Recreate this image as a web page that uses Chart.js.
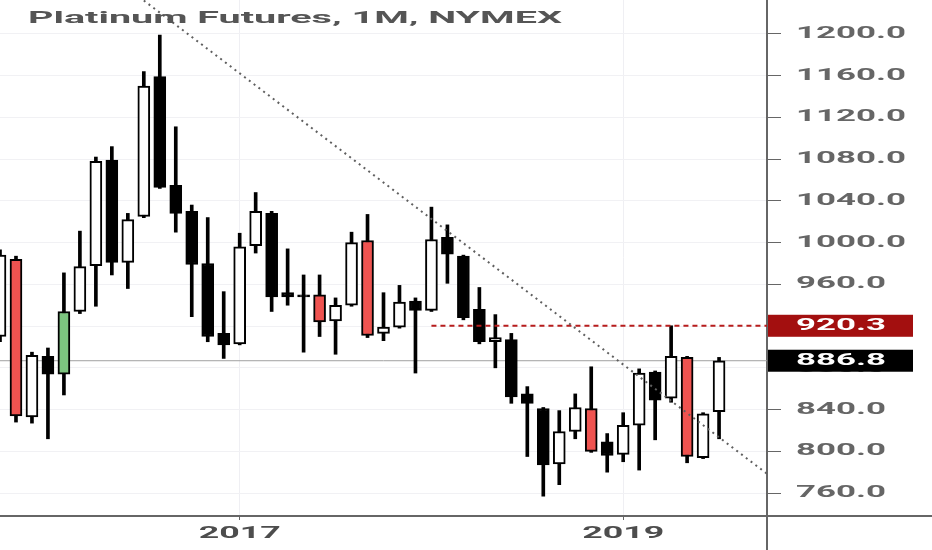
<!DOCTYPE html>
<html>
<head>
<meta charset="utf-8">
<title>Platinum Futures, 1M, NYMEX</title>
<script src="https://cdn.jsdelivr.net/npm/chart.js@4.4.0/dist/chart.umd.min.js"></script>
<style>
  html, body { margin: 0; padding: 0; background: #ffffff; }
  #wrap { width: 932px; height: 550px; position: relative; }
</style>
</head>
<body>
<div id="wrap"><canvas id="ChartPlatinum_Canvasobj"></canvas></div>
<script>
// monthly bars, last three months are empty space on the right
var months = [
  '2015-10','2015-11','2015-12',
  '2016-01','2016-02','2016-03','2016-04','2016-05','2016-06','2016-07','2016-08','2016-09','2016-10','2016-11','2016-12',
  '2017-01','2017-02','2017-03','2017-04','2017-05','2017-06','2017-07','2017-08','2017-09','2017-10','2017-11','2017-12',
  '2018-01','2018-02','2018-03','2018-04','2018-05','2018-06','2018-07','2018-08','2018-09','2018-10','2018-11','2018-12',
  '2019-01','2019-02','2019-03','2019-04','2019-05','2019-06','2019-07','2019-08','2019-09','2019-10'
];
var opens  = [910,984,833,891,874,934,978,1079,981,1025,1159,1055,1030,980,913,903,997,1028,952,950,950,925,940,1002,913,919,944,935,1005,987,936,905,907,855,841,788,819,841,809,797,825,876,851,890,794,838];
var highs  = [993,987,895,899,971,1011,1082,1092,1028,1164,1199,1111,1036,1024,953,1009,1048,1030,994,969,969,947,1010,1027,952,959,947,1034,1017,988,957,931,913,862,842,839,855,881,817,837,879,877,920.3,891,837,890];
var lows   = [905,828,827,812,854,932,939,969,956,1024,1052,1010,929,905,889,902,990,934,940,895,910,893,939,909,906,918,875,934,961,926,903,880,846,795,757,768,812,799,780,790,782,811,847,789,793,812];
var closes = [988,834,892,874,934,977,1078,981,1022,1150,1053,1028,979,910,902,996,1030,948,948,948,924,940,1000,911,919,943,935,1003,989,928,905,909,852,846,787,819,842,800,796,825,875,849,891,795,836,886.8];

var downHighlight = ['2015-11','2017-06','2017-09','2018-11','2019-05'];
var upHighlight = ['2016-02'];
var yearTicks = ['2017','2019'];

var trendMonths = ['2016-07','2019-10'];
var trendValues = [1232, 778.5];
var resistanceMonths = ['2018-01','2019-10'];
var resistanceLevel = 920.3;
var lastPrice = 886.8;
var tagValues = [920.3, 886.8];

var bodies = opens.map((o, i) => [Math.min(o, closes[i]), Math.max(o, closes[i])]);
var wicks = lows.map((l, i) => [l, highs[i]]);

const bodyColor = (c) => {
  const m = months[c.dataIndex];
  if (downHighlight.includes(m)) return '#ef5350';
  if (upHighlight.includes(m)) return '#7cc47f';
  return closes[c.dataIndex] >= opens[c.dataIndex] ? '#ffffff' : '#000000';
};

// the screenshot is a stretched video frame, so text is drawn wide
const stretchedText = {
  id: 'stretchedText',
  afterDraw(chart) {
    const ctx = chart.ctx;
    const xs = chart.scales.x, ys = chart.scales.y;
    const area = chart.chartArea;

    function put(text, px, py, font, color, align, width, refText) {
      ctx.save();
      ctx.font = font;
      const k = width / ctx.measureText(refText).width;
      ctx.translate(px, py);
      ctx.scale(k, 1);
      ctx.fillStyle = color;
      ctx.textAlign = align;
      ctx.textBaseline = 'middle';
      ctx.fillText(text, 0, 0);
      ctx.restore();
    }

    ctx.save();
    ctx.strokeStyle = '#666666';
    ctx.lineWidth = 2;
    ctx.beginPath();
    ctx.moveTo(area.right, area.bottom); ctx.lineTo(chart.width, area.bottom);
    ctx.moveTo(area.right, area.bottom); ctx.lineTo(area.right, chart.height);
    ctx.stroke();
    ctx.restore();

    const labelX = area.right + 29;
    ys.ticks.forEach(t => {
      put(t.value.toFixed(1), labelX, ys.getPixelForValue(t.value), 'bold 16px Roboto', '#666666', 'left', 110, '1200.0');
    });

    tagValues.forEach((v, i) => {
      const py = ys.getPixelForValue(v);
      ctx.fillStyle = i === 0 ? '#a30f0f' : '#000000';
      ctx.fillRect(area.right + 1, py - 11, 145, 22);
      put(v.toFixed(1), labelX, py, 'bold 16px Roboto', '#ffffff', 'left', 110, '1200.0');
    });

    xs.ticks.forEach(t => {
      put(months[t.value].slice(0, 4), xs.getPixelForValue(t.value), area.bottom + 18, 'bold 16px Roboto', '#4d4d4d', 'center', 82, '2017');
    });

    put('Platinum Futures, 1M, NYMEX', 28, 19, 'bold 16px Roboto', '#555555', 'left', 534, 'Platinum Futures, 1M, NYMEX');
  }
};

const config_platinum = {
  type: 'bar',
  data: {
    labels: months,
    datasets: [
      {
        type: 'line',
        label: 'Trend',
        data: trendMonths.map((m, i) => ({ x: m, y: trendValues[i] })),
        borderColor: '#5f5f5f',
        borderWidth: 2,
        borderDash: [2, 4],
        pointRadius: 0,
        order: -2
      },
      {
        type: 'line',
        label: 'Resistance',
        data: resistanceMonths.map(m => ({ x: m, y: resistanceLevel })),
        borderColor: '#b71c1c',
        borderWidth: 2,
        borderDash: [5, 4],
        pointRadius: 0,
        order: -1
      },
      {
        type: 'line',
        label: 'Last',
        data: [{ x: months[0], y: lastPrice }, { x: months[months.length - 1], y: lastPrice }],
        borderColor: '#a0a0a0',
        borderWidth: 1,
        pointRadius: 0,
        order: 3
      },
      {
        label: 'Body',
        data: bodies,
        backgroundColor: bodyColor,
        borderColor: '#000000',
        borderWidth: 2,
        borderSkipped: false,
        barThickness: 12,
        minBarLength: 2,
        grouped: false,
        order: 0
      },
      {
        label: 'Wick',
        data: wicks,
        backgroundColor: '#000000',
        barThickness: 3,
        grouped: false,
        order: 1
      }
    ]
  },
  options: {
    responsive: true,
    maintainAspectRatio: false,
    animation: false,
    events: [],
    plugins: {
      legend: { display: false },
      tooltip: { enabled: false }
    },
    scales: {
      x: {
        type: 'category',
        offset: false,
        grid: { offset: false, color: '#efeff3', tickColor: '#666666', tickLength: 4 },
        border: { color: '#666666', width: 2 },
        ticks: { display: false },
        afterBuildTicks: (s) => {
          s.ticks = s.ticks.filter(t => months[t.value].endsWith('-01') && yearTicks.includes(months[t.value].slice(0, 4)));
        },
        afterFit: (s) => { s.height = 34; }
      },
      y: {
        position: 'right',
        min: 738,
        max: 1232.5,
        ticks: { display: false, stepSize: 40, includeBounds: false },
        grid: { color: '#f1f1f4', tickColor: '#666666', tickLength: 14 },
        border: { color: '#666666', width: 2 },
        afterFit: (s) => { s.width = 165; }
      }
    }
  },
  plugins: [stretchedText]
};

const ChartPlatinum = new Chart(
  document.getElementById('ChartPlatinum_Canvasobj'),
  config_platinum
);
</script>
</body>
</html>
